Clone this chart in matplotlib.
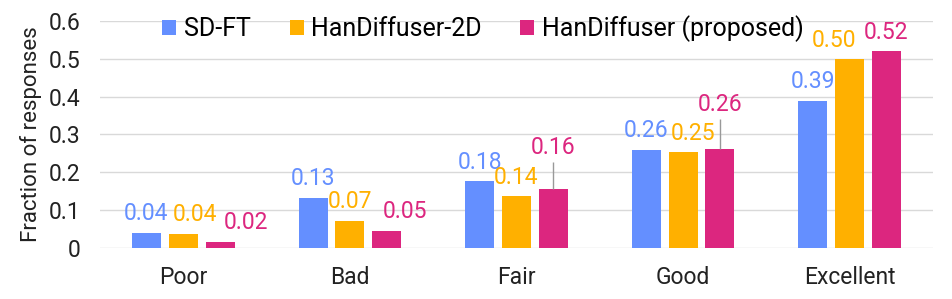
import numpy as np
import matplotlib.pyplot as plt

plt.rcParams['font.family'] = ['Roboto', 'DejaVu Sans']

categories = ['Poor', 'Bad', 'Fair', 'Good', 'Excellent']
series = ['SD-FT', 'HanDiffuser-2D', 'HanDiffuser (proposed)']
sd_ft = [0.040, 0.132, 0.176, 0.259, 0.389]
han_2d = [0.037, 0.072, 0.137, 0.253, 0.499]
han_prop = [0.016, 0.046, 0.156, 0.262, 0.520]
han_prop_err = [0.0, 0.0, 0.070, 0.079, 0.0]
colors = ['#648FFF', '#FFB000', '#DC267F']

# sideways nudges (points) so neighbouring value labels don't collide
label_shift = {(1, 0): 8.6, (2, 0): 18.7, (2, 1): 13.0, (1, 3): 7.2, (1, 4): -11.5}

fig = plt.figure(figsize=(9.52, 2.99), dpi=100)
ax = fig.add_axes([0.105, 0.1706, 0.875, 0.7592])

x = np.arange(len(categories))
pitch = 0.221
width = 0.174
values = [sd_ft, han_2d, han_prop]
errs = [None, None, [np.zeros(5), han_prop_err]]

for i, (name, vals, col, err) in enumerate(zip(series, values, colors, errs)):
    pos = x + (i - 1) * pitch
    ax.bar(pos, vals, width, color=col, label=name, zorder=3,
           yerr=err, error_kw=dict(ecolor='#999999', elinewidth=1, capsize=0, zorder=4))
    for j, (p, v) in enumerate(zip(pos, vals)):
        e = err[1][j] if err is not None else 0
        dy = 2.5 if e > 0 else 5.5
        ax.annotate(f'{v:.2f}', (p, v + e), xytext=(label_shift.get((i, j), 0), dy),
                    textcoords='offset points', ha='center', va='bottom',
                    color=col, fontsize=16.5)

ax.set_xlim(-0.5, 4.5)
ax.set_ylim(0, 0.6)
ax.set_yticks([0, 0.1, 0.2, 0.3, 0.4, 0.5, 0.6])
ax.set_yticklabels(['0', '0.1', '0.2', '0.3', '0.4', '0.5', '0.6'])
ax.set_xticks(x)
ax.set_xticklabels(categories)
ax.tick_params(axis='both', length=0, labelsize=16.5, colors='#222222')
ax.tick_params(axis='x', pad=13)
ax.tick_params(axis='y', pad=14)
ax.set_ylabel('Fraction of responses', fontsize=16, color='#222222', labelpad=5)
ax.grid(axis='y', color='#d9d9d9', linewidth=1, zorder=0)
for s in ax.spines.values():
    s.set_visible(False)

ax.legend(loc='center left', bbox_to_anchor=(0.075, 0.965), ncol=3, frameon=False,
          fontsize=18, handlelength=0.56, handleheight=0.56, handletextpad=0.3,
          columnspacing=1.55, borderaxespad=0, borderpad=0)

fig.savefig('out.png', dpi=100)
